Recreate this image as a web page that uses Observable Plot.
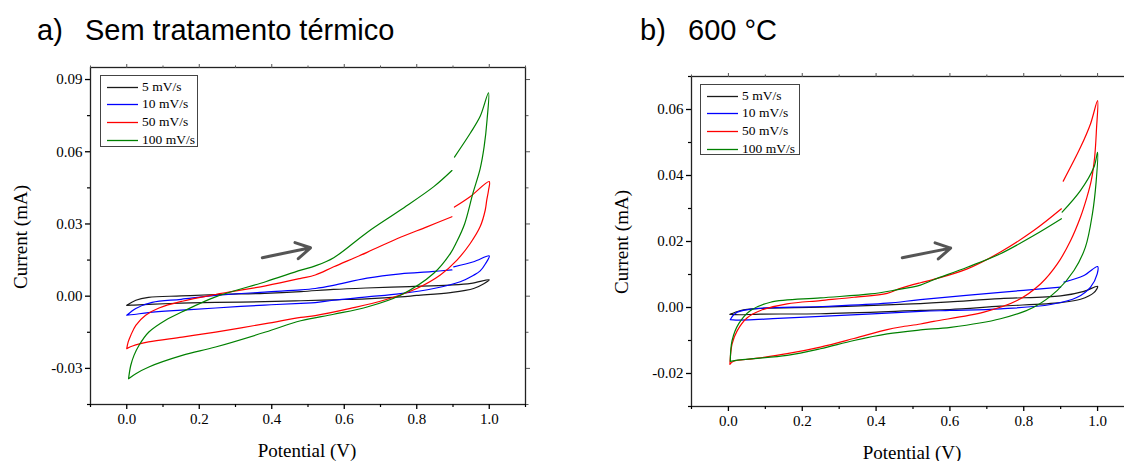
<!DOCTYPE html>
<html>
<head>
<meta charset="utf-8">
<script src="https://cdn.jsdelivr.net/npm/d3@7"></script>
<script src="https://cdn.jsdelivr.net/npm/@observablehq/plot@0.6"></script>
<style>
  html, body { margin: 0; padding: 0; background: #fff; }
  body { width: 1124px; height: 461px; position: relative; overflow: hidden; }
  .title { position: absolute; font-family: "Liberation Sans", Arial, sans-serif; font-size: 29px; line-height: 1; color: #000; white-space: pre; }
  .axlab { position: absolute; font-family: "Liberation Serif", "Times New Roman", serif; font-size: 19px; line-height: 1; color: #000; white-space: pre; }
  .panel { position: absolute; }
  .panel svg { max-width: none !important; }
  .legend { position: absolute; border: 1px solid #444; background: #fff; font-family: "Liberation Serif", "Times New Roman", serif; font-size: 13.5px; box-sizing: border-box; padding-top: 2px; }
  .legend .row { height: 17.6px; display: flex; align-items: center; }
  .legend .sw { display: block; width: 31px; height: 12px; margin-left: 6px; margin-right: 4px; }
</style>
</head>
<body>
<script>
// ---------- data ----------
const series = ["5 mV/s", "10 mV/s", "50 mV/s", "100 mV/s"];
const colors = ["#1a1a1a", "#0000ff", "#ff0000", "#008000"];

const xTicks = [0, 0.2, 0.4, 0.6, 0.8, 1.0];
const xMinorTicks = [-0.1, 0.1, 0.3, 0.5, 0.7, 0.9, 1.1];
const yTicksA = [-0.03, 0, 0.03, 0.06, 0.09];
const yMinorA = [-0.045, -0.015, 0.015, 0.045, 0.075];
const yTicksB = [-0.02, 0, 0.02, 0.04, 0.06];
const yMinorB = [-0.03, -0.01, 0.01, 0.03, 0.05, 0.07];

// panel a) Sem tratamento térmico  — [potential V, current mA], null = break
const a5 = [[0.0,-0.0038],[0.025,-0.0017],[0.06,-0.0005],[0.15,0.0001],[0.245,0.0007],[0.38,0.0012],[0.48,0.0019],[0.57,0.0028],[0.66,0.0034],[0.78,0.004],[0.89,0.0046],[0.95,0.0053],[1.0,0.0068],
  [0.985,0.0052],[0.957,0.0032],[0.893,0.0015],[0.8,0.0003],[0.755,-0.0003],[0.66,-0.0011],[0.57,-0.0015],[0.48,-0.0019],[0.38,-0.0023],[0.245,-0.0026],[0.15,-0.0029],[0.06,-0.0034],[0.02,-0.0037],[0.0,-0.0038]];
const a10 = [[0.0,-0.0079],[0.012,-0.0065],[0.025,-0.0051],[0.07,-0.0026],[0.15,-0.0013],[0.245,0.0003],[0.38,0.0017],[0.48,0.0026],[0.52,0.0032],[0.57,0.0045],[0.663,0.0075],[0.755,0.0093],[0.84,0.0102],[0.897,0.0109], null,
  [0.902,0.0122],[0.957,0.0143],[1.0,0.0167],
  [0.99,0.0136],[0.975,0.0105],[0.957,0.0087],[0.92,0.006],[0.847,0.0032],[0.755,0.0011],[0.663,-0.0003],[0.57,-0.0017],[0.52,-0.0027],[0.48,-0.003],[0.38,-0.0037],[0.245,-0.0049],[0.15,-0.0058],[0.06,-0.0068],[0.02,-0.0076],[0.0,-0.0079]];
const a50 = [[0.0,-0.0218],[0.004,-0.019],[0.011,-0.0163],[0.025,-0.0121],[0.052,-0.0079],[0.089,-0.0049],[0.153,-0.0021],[0.245,0.0007],[0.383,0.0043],[0.48,0.0074],[0.52,0.0088],[0.571,0.0122],[0.663,0.0182],[0.755,0.0245],[0.828,0.0288],[0.897,0.033], null,
  [0.904,0.037],[0.948,0.0414],[1.0,0.0476],
  [0.998,0.044],[0.993,0.0398],[0.989,0.0358],[0.975,0.0289],[0.948,0.022],[0.911,0.015],[0.865,0.0088],[0.8,0.0032],[0.709,-0.0017],[0.617,-0.0051],[0.52,-0.0081],[0.48,-0.0088],[0.383,-0.0114],[0.245,-0.0149],[0.153,-0.017],[0.06,-0.019],[0.016,-0.0207],[0.0,-0.0218]];
const a100 = [[0.005,-0.0343],[0.011,-0.0288],[0.02,-0.0246],[0.034,-0.0204],[0.061,-0.0149],[0.107,-0.01],[0.153,-0.0065],[0.245,-0.0003],[0.383,0.006],[0.48,0.0108],[0.52,0.0126],[0.571,0.016],[0.663,0.0265],[0.755,0.0358],[0.847,0.0455],[0.897,0.0522], null,
  [0.904,0.0578],[0.948,0.0678],[0.975,0.0747],[0.998,0.0845],
  [0.994,0.0733],[0.986,0.0622],[0.975,0.053],[0.955,0.0428],[0.932,0.03],[0.91,0.0225],[0.893,0.0178],[0.847,0.0095],[0.755,0.0004],[0.663,-0.0045],[0.571,-0.0075],[0.48,-0.0102],[0.383,-0.0149],[0.245,-0.0211],[0.153,-0.0246],[0.061,-0.0294],[0.025,-0.0322],[0.005,-0.0343]];

// panel b) 600 °C
const b5 = [[0.004,-0.0021],[0.033,-0.0009],[0.087,-0.0003],[0.25,0.0001],[0.43,0.0008],[0.52,0.0012],[0.6,0.0017],[0.737,0.0027],[0.9,0.0035],[0.963,0.0049],[1.0,0.0064],
  [0.99,0.0045],[0.954,0.0025],[0.9,0.0015],[0.737,0.0004],[0.6,-0.0006],[0.52,-0.0009],[0.25,-0.0019],[0.087,-0.002],[0.03,-0.0022],[0.004,-0.0021]];
const b10 = [[0.005,-0.0037],[0.012,-0.0025],[0.024,-0.0014],[0.069,-0.0004],[0.25,0.0003],[0.43,0.0013],[0.52,0.0024],[0.737,0.0046],[0.9,0.0062], null,
  [0.909,0.0077],[0.963,0.0097],[1.0,0.0124],
  [0.999,0.0102],[0.981,0.0062],[0.945,0.0031],[0.873,0.0009],[0.737,-0.0004],[0.6,-0.0009],[0.52,-0.0012],[0.25,-0.0027],[0.12,-0.0034],[0.069,-0.0037],[0.02,-0.0038],[0.005,-0.0037]];
const b50 = [[0.004,-0.0172],[0.01,-0.011],[0.024,-0.007],[0.051,-0.0031],[0.087,-0.0009],[0.159,0.0011],[0.249,0.0021],[0.34,0.0031],[0.43,0.0043],[0.466,0.0058],[0.52,0.0075],[0.556,0.0085],[0.647,0.0117],[0.737,0.0168],[0.827,0.0233],[0.902,0.0299], null,
  [0.907,0.0383],[0.954,0.0486],[0.981,0.0557],[1.0,0.0627],
  [0.997,0.054],[0.992,0.0455],[0.983,0.0385],[0.97,0.033],[0.954,0.0275],[0.927,0.0203],[0.891,0.0132],[0.846,0.0072],[0.782,0.0021],[0.692,-0.0014],[0.556,-0.0042],[0.52,-0.005],[0.466,-0.0059],[0.43,-0.0067],[0.34,-0.0094],[0.249,-0.012],[0.159,-0.014],[0.069,-0.0155],[0.014,-0.0163],[0.004,-0.0172]];
const b100 = [[0.005,-0.0163],[0.01,-0.01],[0.028,-0.0049],[0.06,-0.0009],[0.114,0.0016],[0.249,0.0029],[0.385,0.0041],[0.448,0.0052],[0.52,0.0068],[0.556,0.0084],[0.647,0.0122],[0.737,0.0163],[0.827,0.0218],[0.902,0.0269], null,
  [0.904,0.0289],[0.954,0.0355],[0.99,0.0425],[1.0,0.047],
  [0.996,0.038],[0.986,0.0284],[0.967,0.0183],[0.936,0.0112],[0.891,0.0052],[0.827,0.0001],[0.737,-0.0034],[0.602,-0.006],[0.52,-0.0068],[0.43,-0.008],[0.34,-0.01],[0.249,-0.0125],[0.159,-0.0145],[0.069,-0.0155],[0.02,-0.016],[0.005,-0.0163]];

// scan-direction arrows [from, to]
const arrowA = [[0.374, 0.016], [0.507, 0.0201]];
const arrowB = [[0.471, 0.0151], [0.602, 0.018]];

// ---------- build ----------
function rows(list) {
  const out = [];
  list.forEach((arr, k) => arr.forEach(p => out.push(p ? {v: p[0], i: p[1], s: series[k]} : {v: NaN, i: NaN, s: series[k]})));
  return out;
}

function makePlot({data, arrow, yDomain, yTicks, yMinor, width, height, mt, mr, mb, ml}) {
  const fmtY = d => d.toFixed(2);
  const fmtX = d => d.toFixed(1);
  return Plot.plot({
    width, height, marginTop: mt, marginRight: mr, marginBottom: mb, marginLeft: ml,
    x: {domain: [-0.1, 1.1]},
    y: {domain: yDomain},
    color: {domain: series, range: colors},
    style: {fontFamily: "'Liberation Serif', 'Times New Roman', serif", fontSize: "15px", background: "transparent", color: "#000", overflow: "visible", maxWidth: "none"},
    marks: [
      Plot.line(data, {x: "v", y: "i", z: "s", stroke: "s", strokeWidth: 1.2, curve: "catmull-rom"}),
      Plot.arrow([arrow], {x1: d => d[0][0], y1: d => d[0][1], x2: d => d[1][0], y2: d => d[1][1], stroke: "#2a2a2a", strokeWidth: 3, headLength: 12, strokeOpacity: 0.8}),
      Plot.frame({stroke: "#222", strokeWidth: 1.3}),
      Plot.axisX({ticks: xTicks, tickSize: 5, tickPadding: 4, tickFormat: fmtX, label: null, strokeWidth: 1.3}),
      Plot.axisX({ticks: xMinorTicks, tickSize: 3, fill: "none", label: null, strokeWidth: 1.2}),
      Plot.axisX({anchor: "top", ticks: xTicks, tickSize: 4, fill: "none", label: null, stroke: "#555"}),
      Plot.axisX({anchor: "top", ticks: xMinorTicks, tickSize: 2.5, fill: "none", label: null, stroke: "#555"}),
      Plot.axisY({ticks: yTicks, tickSize: 5, tickPadding: 3, tickFormat: fmtY, label: null, strokeWidth: 1.3}),
      Plot.axisY({ticks: yMinor, tickSize: 3, fill: "none", label: null, strokeWidth: 1.2}),
      Plot.axisY({anchor: "right", ticks: yTicks, tickSize: 4, fill: "none", label: null, stroke: "#555"}),
      Plot.axisY({anchor: "right", ticks: yMinor, tickSize: 2.5, fill: "none", label: null, stroke: "#555"})
    ]
  });
}

function addDiv(cls, text, css) {
  const d = document.createElement("div");
  d.className = cls;
  d.textContent = text;
  Object.assign(d.style, css);
  document.body.appendChild(d);
  return d;
}

function addLegend(left, top, w, h) {
  const lg = document.createElement("div");
  lg.className = "legend";
  Object.assign(lg.style, {left: left + "px", top: top + "px", width: w + "px", height: h + "px"});
  const ns = "http://www.w3.org/2000/svg";
  series.forEach((s, k) => {
    const r = document.createElement("div");
    r.className = "row";
    const sw = document.createElementNS(ns, "svg");
    sw.setAttribute("class", "sw");
    sw.setAttribute("width", 31);
    sw.setAttribute("height", 12);
    const ln = document.createElementNS(ns, "line");
    ln.setAttribute("x1", 0); ln.setAttribute("x2", 31);
    ln.setAttribute("y1", 6.5); ln.setAttribute("y2", 6.5);
    ln.setAttribute("stroke", colors[k]);
    ln.setAttribute("stroke-width", 1.3);
    sw.appendChild(ln);
    const t = document.createElement("span");
    t.textContent = s;
    r.appendChild(sw); r.appendChild(t);
    lg.appendChild(r);
  });
  document.body.appendChild(lg);
}

function addPanel(svg, left, top, w, h) {
  const wrap = document.createElement("div");
  wrap.className = "panel";
  Object.assign(wrap.style, {left: left + "px", top: top + "px", width: w + "px", height: h + "px"});
  svg.style.maxWidth = "none";
  svg.setAttribute("width", w);
  svg.setAttribute("height", h);
  wrap.appendChild(svg);
  document.body.appendChild(wrap);
}

// panel a
const pa = makePlot({data: rows([a5, a10, a50, a100]), arrow: arrowA, yDomain: [-0.045, 0.095], yTicks: yTicksA, yMinor: yMinorA,
  width: 540, height: 410, mt: 12, mr: 15, mb: 61, ml: 90});
addPanel(pa, 0, 55, 540, 410);

// panel b
const pb = makePlot({data: rows([b5, b10, b50, b100]), arrow: arrowB, yDomain: [-0.03, 0.07], yTicks: yTicksB, yMinor: yMinorB,
  width: 544, height: 406, mt: 16, mr: 10, mb: 60, ml: 91});
addPanel(pb, 600, 60, 544, 406);

// titles
addDiv("title", "a)", {left: "37px", top: "16px"});
addDiv("title", "Sem tratamento térmico", {left: "85px", top: "16px"});
addDiv("title", "b)", {left: "640px", top: "16px"});
addDiv("title", "600 °C", {left: "688px", top: "16px"});

// axis titles
addDiv("axlab", "Current (mA)", {left: "20px", top: "237px", transform: "translate(-50%,-50%) rotate(-90deg)"});
addDiv("axlab", "Potential (V)", {left: "307px", top: "450px", transform: "translate(-50%,-50%)"});
addDiv("axlab", "Current (mA)", {left: "621px", top: "242px", transform: "translate(-50%,-50%) rotate(-90deg)"});
addDiv("axlab", "Potential (V)", {left: "912px", top: "452px", transform: "translate(-50%,-50%)"});

// legends
addLegend(100, 75, 98, 72);
addLegend(700, 84, 100, 71);
</script>
</body>
</html>
